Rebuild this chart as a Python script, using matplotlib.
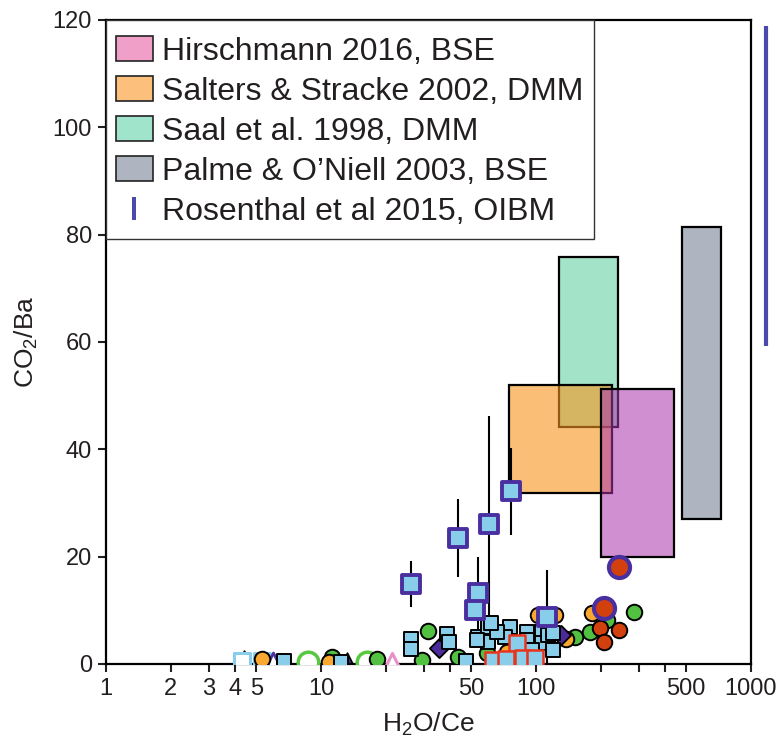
import numpy as np
import matplotlib
matplotlib.use("Agg")
import matplotlib.pyplot as plt
from matplotlib.patches import Patch, Rectangle
from matplotlib.colors import to_rgba
from matplotlib.legend_handler import HandlerPatch

plt.rcParams['font.family'] = ['Liberation Sans', 'DejaVu Sans']
plt.rcParams['mathtext.fontset'] = 'custom'
plt.rcParams['mathtext.rm'] = 'Liberation Sans'
plt.rcParams['mathtext.default'] = 'regular'

# --- reference reservoirs (H2O/Ce range, CO2/Ba range) ---
box_names = ["Saal et al. 1998, DMM", "Salters & Stracke 2002, DMM",
             "Hirschmann 2016, BSE", "Palme & O\u2019Niell 2003, BSE"]
box_x = [(128, 240), (75, 226), (200, 438), (478, 725)]
box_y = [(44.2, 75.8), (31.9, 52.0), (19.9, 51.2), (27.0, 81.4)]
box_fill = ['#a3e4c9', '#f7941d', '#aa34aa', '#aeb4c0']
box_alpha = [1.0, 0.6, 0.55, 1.0]

# Rosenthal et al 2015 OIBM range (drawn beside the axis)
ros_y = (59.3, 118.9)

# --- samples with CO2/Ba errors ---
err_x = [26.2, 43.4, 53.7, 52.0, 60.4, 76.5, 112.5]
err_y = [14.9, 23.5, 13.2, 10.1, 26.1, 32.2, 8.8]
err_e = [4.2, 7.25, 6.7, 0.0, 20.2, 8.1, 8.7]

# --- other melt inclusion / glass data ---
sq_x = [26.2, 26.2, 38.5, 39.4, 47.3, 53.7, 59.8, 59.8, 53.2, 75.7, 71.8, 65.8,
        90.8, 90.8, 106.6, 106.6, 113.6, 120, 82.5, 95.8, 6.7, 12.4, 61.8, 120]
sq_y = [4.7, 2.8, 5.6, 4.1, 0.6, 5.0, 6.9, 4.1, 4.5, 6.9, 5.0, 6.0,
        6.0, 4.5, 6.0, 3.9, 5.4, 2.6, 3.2, 2.6, 0.6, 0.4, 7.6, 5.8]

red_sq_x = [81.6, 63.1, 72.6, 87.0, 99]
red_sq_y = [3.9, 0.7, 0.9, 1.1, 1.1]

green_x = [31.5, 29.5, 43.4, 151.8, 178, 285.6, 213.9, 59.2, 11.3, 18.2]
green_y = [6.1, 0.7, 1.3, 5.0, 6.0, 9.7, 8.2, 2.0, 1.3, 0.9]

orange_x = [182, 137.9, 102, 122.5, 73.3, 10.9, 5.3]
orange_y = [9.5, 4.7, 9.1, 9.1, 2.2, 0.4, 1.0]

red_x = [198.5, 243, 207]
red_y = [6.7, 6.3, 4.1]

big_red_x = [243, 207]
big_red_y = [18.1, 10.4]

dia_x = [35.4, 130.7]
dia_y = [3.0, 5.4]

open_sq_x = [4.29, 5.3]
open_sq_y = [0.5, 0.5]
open_circ_x = [8.7, 16.4]
open_circ_y = [0.3, 0.4]
tri_pink_x = [4.4]
tri_pink_y = [1.2]
tri_dark_x = [13.2]
tri_dark_y = [0.8]
open_tri_purple_x = [6.0]
open_tri_purple_y = [0.6]
open_tri_pink_x = [21.4]
open_tri_pink_y = [0.3]

xticks = [1, 2, 3, 4, 5, 10, 20, 30, 40, 50, 100, 200, 300, 400, 500, 1000]
xlabels = ['1', '2', '3', '4', '5', '10', '', '', '', '50', '100', '', '', '', '500', '1000']
yticks = [0, 20, 40, 60, 80, 100, 120]

txt = '#231f20'
lblue = '#88cde9'
purple = '#4a2fa0'
ros_col = '#4a4aaa'


def legend_box(legend, orig_handle, xdescent, ydescent, width, height, fontsize):
    # swatch smaller than the row, centred on the text
    h = 0.78 * fontsize
    return Rectangle((-xdescent, 0.36 * fontsize - h / 2), width, h)


def legend_bar(legend, orig_handle, xdescent, ydescent, width, height, fontsize):
    w, h = 3.0, 0.72 * fontsize
    return Rectangle((-xdescent + width / 2 - w / 2, 0.36 * fontsize - h / 2), w, h)


fig = plt.figure(figsize=(7.81, 7.49), dpi=100)
ax = fig.add_axes([106 / 781, 85 / 749, 645 / 781, 644 / 749])
ax.set_xscale('log')
ax.set_xlim(1, 1000)
ax.set_ylim(0, 120)

for (x0, x1), (y0, y1), c, a in zip(box_x, box_y, box_fill, box_alpha):
    ax.fill([x0, x1, x1, x0], [y0, y0, y1, y1], facecolor=to_rgba(c, a),
            edgecolor='black', linewidth=1.6, zorder=1)

ax.errorbar(err_x, err_y, yerr=err_e, fmt='none', ecolor='black',
            elinewidth=1.5, capsize=0, zorder=2)

# open / low symbols along the base
ax.scatter(tri_pink_x, tri_pink_y, marker='^', s=110, facecolor='#e890c8',
           edgecolor='black', linewidth=1.3, zorder=2.5)
ax.scatter(tri_dark_x, tri_dark_y, marker='^', s=110, facecolor=purple,
           edgecolor='black', linewidth=1.3, zorder=2.5)
ax.scatter(open_sq_x, open_sq_y, marker='s', s=120, facecolor='white',
           edgecolor=lblue, linewidth=2.2, zorder=3)
ax.scatter(open_circ_x, open_circ_y, marker='o', s=220, facecolor='white',
           edgecolor='#58c840', linewidth=2.5, zorder=3)
ax.scatter(open_tri_purple_x, open_tri_purple_y, marker='^', s=150, facecolor='white',
           edgecolor=purple, linewidth=2.0, zorder=3)
ax.scatter(open_tri_pink_x, open_tri_pink_y, marker='^', s=170, facecolor='white',
           edgecolor='#e890c8', linewidth=2.2, zorder=3)

ax.scatter(green_x, green_y, marker='o', s=125, facecolor='#52c041',
           edgecolor='black', linewidth=1.4, zorder=3)
ax.scatter(orange_x, orange_y, marker='o', s=125, facecolor='#f9a830',
           edgecolor='black', linewidth=1.4, zorder=3)
ax.scatter(dia_x, dia_y, marker='D', s=95, facecolor='#4b2a9a',
           edgecolor='black', linewidth=1.3, zorder=3)
ax.scatter(red_x, red_y, marker='o', s=125, facecolor='#d2400e',
           edgecolor='black', linewidth=1.4, zorder=3)
ax.scatter(sq_x, sq_y, marker='s', s=110, facecolor=lblue,
           edgecolor='black', linewidth=1.4, zorder=4)
ax.scatter(red_sq_x, red_sq_y, marker='s', s=120, facecolor=lblue,
           edgecolor='#e8341c', linewidth=1.8, zorder=4)
ax.scatter(big_red_x, big_red_y, marker='o', s=230, facecolor='#d2400e',
           edgecolor=purple, linewidth=3.0, zorder=5)
ax.scatter(err_x, err_y, marker='s', s=165, facecolor=lblue,
           edgecolor=purple, linewidth=2.8, zorder=5)

# OIBM range sits just right of the plot frame
ax.plot([1175, 1175], ros_y, color=ros_col, linewidth=3, clip_on=False,
        solid_capstyle='butt', zorder=5)

ax.set_xticks(xticks)
ax.set_xticklabels(xlabels)
ax.xaxis.set_minor_locator(matplotlib.ticker.NullLocator())
ax.set_yticks(yticks)
ax.tick_params(axis='both', direction='out', length=6, width=1.5,
               labelsize=17, colors=txt, pad=4)
for sp in ax.spines.values():
    sp.set_linewidth(1.6)
    sp.set_color('black')

ax.set_xlabel('H$_2$O/Ce', fontsize=19, color=txt, labelpad=8)
ax.set_ylabel('CO$_2$/Ba', fontsize=19, color=txt, labelpad=9)

leg_fill = ['#f0a0c8', '#fcc07c', '#a0e4cc', '#aeb4c0']
leg_names = [box_names[2], box_names[1], box_names[0], box_names[3]]
handles = [Patch(facecolor=c, edgecolor='#222222', linewidth=1.2) for c in leg_fill]
ros_handle = Patch(facecolor=ros_col, edgecolor='none')
handles.append(ros_handle)
labels = leg_names + ['Rosenthal et al 2015, OIBM']
hmap = {Patch: HandlerPatch(patch_func=legend_box),
        ros_handle: HandlerPatch(patch_func=legend_bar)}
leg = ax.legend(handles, labels, loc='upper left', bbox_to_anchor=(0, 1),
                borderaxespad=0, fancybox=False, framealpha=1, fontsize=23,
                handlelength=1.15, handleheight=1.546, handletextpad=0.3,
                labelspacing=0.0, borderpad=0.31, labelcolor=txt,
                handler_map=hmap)
leg.get_frame().set_edgecolor('#333333')
leg.get_frame().set_linewidth(1.0)
leg.set_zorder(6)

fig.savefig('out.png', dpi=100)
